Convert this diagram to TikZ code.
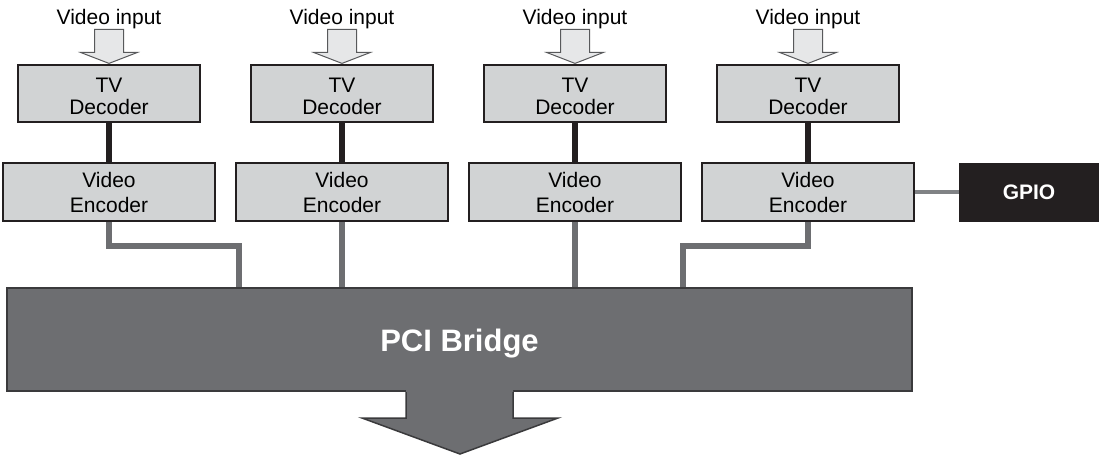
\documentclass[tikz,border=0pt]{standalone}
\usepackage{fontspec}
\setmainfont{Liberation Sans}
\usetikzlibrary{calc,backgrounds}
\definecolor{boxfill}{HTML}{D1D3D4}
\definecolor{boxline}{HTML}{231F20}
\definecolor{infill}{HTML}{E6E7E8}
\definecolor{inline}{HTML}{58595B}
\definecolor{bridgefill}{HTML}{6D6E71}
\definecolor{bridgeline}{HTML}{3A3A3C}
\definecolor{grayline}{HTML}{6D6E71}
\definecolor{gpioline}{HTML}{808285}
\tikzset{
  decbox/.style={draw=boxline,fill=boxfill,line width=1.2pt,minimum width=182pt,minimum height=57pt,inner sep=0pt,align=center,font=\fontsize{21}{22}\selectfont},
  encbox/.style={draw=boxline,fill=boxfill,line width=1.2pt,minimum width=212pt,minimum height=58pt,inner sep=0pt,align=center,font=\fontsize{21}{25}\selectfont},
  gpiobox/.style={draw=boxline,fill=boxline,line width=1pt,minimum width=140pt,minimum height=58pt,inner sep=0pt,text=white,font=\fontsize{21}{25}\selectfont\bfseries},
  bridgebox/.style={draw=bridgeline,fill=bridgefill,line width=2pt,minimum width=905pt,minimum height=103pt,inner sep=0pt,text=white,font=\fontsize{31}{36}\selectfont\bfseries},
  inlabel/.style={anchor=base,inner sep=0pt,font=\fontsize{21}{24}\selectfont},
  inarrow/.style={draw=inline,fill=infill,line width=1pt,line join=miter},
  blackcon/.style={draw=boxline,line width=6pt},
  graycon/.style={draw=grayline,line width=6pt,line join=miter},
  gpiocon/.style={draw=gpioline,line width=4.5pt},
  outarrowfill/.style={fill=bridgefill},
  outarrowline/.style={draw=bridgeline,line width=1.5pt,line join=miter}
}
\begin{document}
\begin{tikzpicture}[x=1pt,y=-1pt]
\useasboundingbox (0,0) rectangle (1099,455);
\foreach \k in {1,...,4} {
  \pgfmathsetmacro\cx{109+233*(\k-1)}
  \node[decbox] (dec\k) at (\cx,93.5) {\rule{0pt}{21pt}TV\\Decoder};
  \node[encbox] (enc\k) at (\cx,192) {Video\\Encoder};
  \node[inlabel] (lab\k) at (\cx,24) {Video input};
  \draw[inarrow] ($(dec\k.north)+(-14.5,-35)$) -- ++(0,23) -- ++(-14,0)
     -- ($(dec\k.north)+(0,-1)$) -- ($(dec\k.north)+(28.5,-12)$) -- ++(-14,0)
     -- ($(dec\k.north)+(14.5,-35)$) -- cycle;
}
\node[gpiobox] (gpio) at (1029,192) {GPIO};
\node[bridgebox] (bridge) at (459.5,339.5) {\rule{0pt}{31pt}PCI Bridge};
\fill[outarrowfill] ($(bridge.south)+(-53.5,-2)$) -- ($(bridge.south)+(-53.5,26)$)
   -- ($(bridge.south)+(-97.5,26)$) -- ($(bridge.south)+(0.5,62)$)
   -- ($(bridge.south)+(98.5,26)$) -- ($(bridge.south)+(53.5,26)$)
   -- ($(bridge.south)+(53.5,-2)$) -- cycle;
\draw[outarrowline] ($(bridge.south)+(-53.5,0)$) -- ($(bridge.south)+(-53.5,26)$)
   -- ($(bridge.south)+(-97.5,26)$) -- ($(bridge.south)+(0.5,62)$)
   -- ($(bridge.south)+(98.5,26)$) -- ($(bridge.south)+(53.5,26)$)
   -- ($(bridge.south)+(53.5,0)$);
\coordinate (bend1) at (239,245.5);
\coordinate (bend4) at (682.5,246);
\begin{scope}[on background layer]
  \foreach \k in {1,...,4} {\draw[blackcon] (dec\k.south) -- (enc\k.north);}
  \draw[graycon] (enc1.south) |- (bend1) -- (bend1 |- bridge.north);
  \draw[graycon] (enc2.south) -- (enc2.south |- bridge.north);
  \draw[graycon] (enc3.south) -- (enc3.south |- bridge.north);
  \draw[graycon] (enc4.south) |- (bend4) -- (bend4 |- bridge.north);
  \draw[gpiocon] (enc4.east) -- (gpio.west);
\end{scope}
\end{tikzpicture}
\end{document}
